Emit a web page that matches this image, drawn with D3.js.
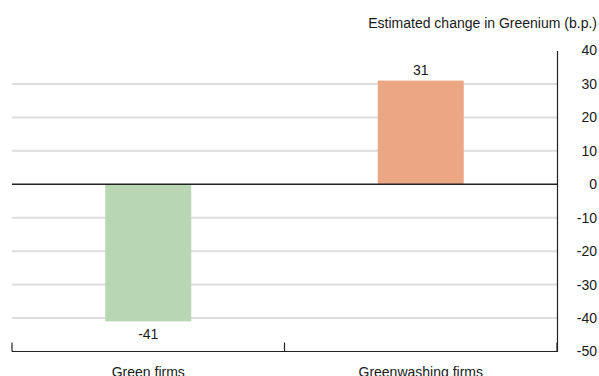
<!DOCTYPE html>
<html>
<head>
<meta charset="utf-8">
<script src="https://cdn.jsdelivr.net/npm/d3@7"></script>
<style>
  html, body { margin: 0; padding: 0; background: #fff; }
  svg text { font-family: "Liberation Sans", Arial, sans-serif; fill: #1a1a1a; }
</style>
</head>
<body>
<svg id="chart" width="599" height="376"></svg>
<script>
const categories = ["Green firms", "Greenwashing firms"];
const values = [-41, 31];
const barColors = ["#b8d6b2", "#eba784"];
const yTicks = [40, 30, 20, 10, 0, -10, -20, -30, -40, -50];
const yTitle = "Estimated change in Greenium (b.p.)";

const svg = d3.select("#chart");
const plotLeft = 12, plotRight = 557, plotTop = 50.5, plotBottom = 351.5;
const fontSize = 14;

const x = d3.scaleBand().domain(categories).range([plotLeft, plotRight]).paddingInner(0).paddingOuter(0);
const y = d3.scaleLinear().domain([-50, 40]).range([plotBottom, plotTop]);
const barW = 86;

// gridlines
svg.append("g").selectAll("line")
  .data(yTicks.filter(t => t !== 0 && t !== -50 && t !== 40))
  .join("line")
  .attr("x1", plotLeft).attr("x2", plotRight)
  .attr("y1", d => y(d)).attr("y2", d => y(d))
  .attr("stroke", "#dedede").attr("stroke-width", 2);

// bars
svg.append("g").selectAll("rect")
  .data(categories)
  .join("rect")
  .attr("x", (d) => x(d) + x.bandwidth() / 2 - barW / 2)
  .attr("width", barW)
  .attr("y", (d, i) => Math.min(y(values[i]), y(0)))
  .attr("height", (d, i) => Math.abs(y(values[i]) - y(0)))
  .attr("fill", (d, i) => barColors[i]);

// zero line
svg.append("line")
  .attr("x1", plotLeft).attr("x2", plotRight)
  .attr("y1", y(0)).attr("y2", y(0))
  .attr("stroke", "#222").attr("stroke-width", 1.5);

// value labels
svg.append("g").selectAll("text")
  .data(categories)
  .join("text")
  .attr("x", d => x(d) + x.bandwidth() / 2)
  .attr("y", (d, i) => values[i] >= 0 ? y(values[i]) - 6 : y(values[i]) + 18)
  .attr("text-anchor", "middle")
  .attr("font-size", fontSize)
  .text((d, i) => String(values[i]));

// right axis
const yAxis = d3.axisRight(y).tickValues(yTicks).tickSize(0).tickPadding(0)
  .tickFormat(d => String(d));
const ya = svg.append("g").attr("transform", `translate(${plotRight},0)`).call(yAxis);
ya.select(".domain").attr("stroke", "#222").attr("stroke-width", 1.2);
ya.selectAll("text")
  .attr("x", 40).attr("text-anchor", "end")
  .attr("font-size", fontSize).attr("fill", "#1a1a1a")
  .style("font-family", '"Liberation Sans", Arial, sans-serif');

// bottom axis
const xa = svg.append("g").attr("transform", `translate(0,${plotBottom})`);
xa.append("line").attr("x1", plotLeft).attr("x2", plotRight).attr("stroke", "#222").attr("stroke-width", 1.2);
xa.selectAll("line.tick")
  .data([plotLeft, x(categories[1]), plotRight])
  .join("line")
  .attr("class", "tick")
  .attr("x1", d => d).attr("x2", d => d)
  .attr("y1", -9).attr("y2", 0)
  .attr("stroke", "#222").attr("stroke-width", 1.2);
xa.selectAll("text")
  .data(categories)
  .join("text")
  .attr("x", d => x(d) + x.bandwidth() / 2)
  .attr("y", 25)
  .attr("text-anchor", "middle")
  .attr("font-size", fontSize)
  .text(d => d);

// axis title
svg.append("text")
  .attr("x", 597).attr("y", 28)
  .attr("text-anchor", "end")
  .attr("font-size", fontSize)
  .text(yTitle);
</script>
</body>
</html>
